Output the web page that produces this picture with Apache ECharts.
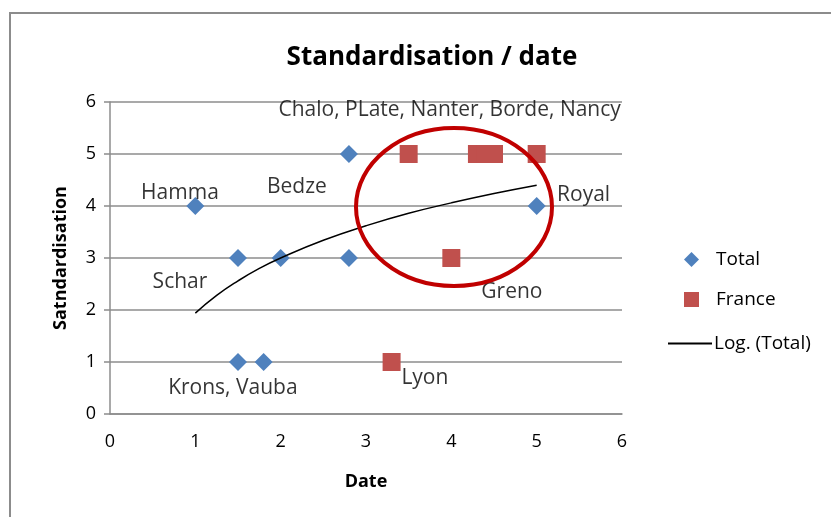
<!DOCTYPE html>
<html>
<head>
<meta charset="utf-8">
<script src="https://cdn.jsdelivr.net/npm/echarts@6/dist/echarts.min.js"></script>
<style>
  html, body { margin: 0; padding: 0; background: #fff; }
  #chart { width: 831px; height: 517px; }
</style>
</head>
<body>
<div id="chart"></div>
<script>
// Total (blue diamonds)
var totalX = [1, 1.5, 2, 2.8, 2.8, 1.5, 1.8, 5]
var totalY = [4, 3, 3, 3, 5, 1, 1, 4]
// France (red squares)
var franceX = [3.5, 4.3, 4.4, 4.5, 5, 4, 3.3]
var franceY = [5, 5, 5, 5, 5, 3, 1]
// log trendline of Total
var trendX = [1, 1.25, 1.5, 1.75, 2, 2.5, 3, 3.5, 4, 4.5, 5]
var trendY = [1.94, 2.28, 2.56, 2.80, 3.00, 3.34, 3.62, 3.86, 4.06, 4.24, 4.40]
// data labels (moved by hand in the original)
var labelText = ['Hamma', 'Bedze', 'Schar', 'Royal', 'Greno', 'Chalo, PLate, Nanter, Borde, Nancy', 'Krons, Vauba', 'Lyon']
var labelX = [0.82, 2.19, 0.82, 5.55, 4.71, 3.98, 1.44, 3.69]
var labelY = [4.25, 4.37, 2.54, 4.21, 2.35, 5.85, 0.5, 0.69]
var xTicks = [0, 1, 2, 3, 4, 5, 6]
var yTicks = [0, 1, 2, 3, 4, 5, 6]

var font = '"Open Sans", "Liberation Sans", sans-serif'

function zip(xs, ys) {
  return xs.map(function(x, i) { return [x, ys[i]] })
}

var chart = echarts.init(document.getElementById('chart'))
chart.setOption({
  backgroundColor: '#fff',
  animation: false,
  textStyle: { fontFamily: font },
  title: {
    text: 'Standardisation / date',
    left: 427,
    top: 40,
    textAlign: 'center',
    textStyle: { fontSize: 26, fontWeight: 'bold', color: '#000', fontFamily: font }
  },
  grid: { left: 110, right: 209, top: 102, bottom: 103 },
  legend: [
    {
      orient: 'vertical',
      left: 679,
      top: 245,
      itemGap: 21,
      itemWidth: 15,
      itemHeight: 15,
      data: [
        { name: 'Total', icon: 'diamond' },
        { name: 'France', icon: 'rect' }
      ],
      textStyle: { fontSize: 19, color: '#000', fontFamily: font, padding: [0, 0, 0, 12] }
    },
    {
      left: 663,
      top: 329,
      itemWidth: 44,
      itemHeight: 2,
      itemGap: 2,
      data: [{ name: 'Log. (Total)', icon: 'rect' }],
      textStyle: { fontSize: 19, color: '#000', fontFamily: font, padding: [0, 0, 0, -3] }
    }
  ],
  xAxis: {
    type: 'value',
    min: xTicks[0],
    max: xTicks[xTicks.length - 1],
    interval: 1,
    name: 'Date',
    nameLocation: 'middle',
    nameGap: 59,
    nameTextStyle: { fontSize: 18, fontWeight: 'bold', color: '#000' },
    axisLine: { lineStyle: { color: '#8c8c8c', width: 1.5 } },
    axisTick: { show: false },
    axisLabel: { fontSize: 18, color: '#000', margin: 19 },
    splitLine: { show: false }
  },
  yAxis: {
    type: 'value',
    min: yTicks[0],
    max: yTicks[yTicks.length - 1],
    interval: 1,
    name: 'Satndardisation',
    nameLocation: 'middle',
    nameGap: 40,
    nameTextStyle: { fontSize: 18, fontWeight: 'bold', color: '#000' },
    axisLine: { show: true, lineStyle: { color: '#8c8c8c', width: 1.5 } },
    axisTick: { show: true, length: 6, lineStyle: { color: '#8c8c8c', width: 1.5 } },
    axisLabel: { fontSize: 18, color: '#000', margin: 14 },
    splitLine: { lineStyle: { color: '#8c8c8c', width: 1.5 } }
  },
  series: [
    {
      name: 'Total',
      type: 'scatter',
      symbol: 'diamond',
      symbolSize: 18,
      itemStyle: { color: '#4f81bd', opacity: 1 },
      data: zip(totalX, totalY),
      z: 3
    },
    {
      name: 'France',
      type: 'scatter',
      symbol: 'rect',
      symbolSize: 18,
      itemStyle: { color: '#c0504d', opacity: 1 },
      data: zip(franceX, franceY),
      z: 3
    },
    {
      name: 'Log. (Total)',
      type: 'line',
      smooth: true,
      showSymbol: false,
      symbol: 'none',
      itemStyle: { color: '#000' },
      lineStyle: { color: '#000', width: 1.5 },
      data: zip(trendX, trendY),
      z: 4
    },
    {
      name: 'labels',
      type: 'scatter',
      symbolSize: 0,
      silent: true,
      data: labelText.map(function(t, i) {
        return { name: t, value: [labelX[i], labelY[i]] }
      }),
      label: {
        show: true,
        position: 'inside',
        formatter: '{b}',
        fontSize: 21,
        color: '#000',
        fontFamily: font
      },
      z: 5
    }
  ],
  graphic: [
    {
      type: 'ellipse',
      shape: { cx: 454, cy: 207, rx: 98, ry: 79 },
      style: { fill: 'none', stroke: '#c00000', lineWidth: 4 },
      z: 10
    },
    {
      type: 'polyline',
      shape: { points: [[10, 517], [10, 13], [831, 13]] },
      style: { fill: 'none', stroke: '#8c8c8c', lineWidth: 2 },
      z: 10
    }
  ]
})
</script>
</body>
</html>
